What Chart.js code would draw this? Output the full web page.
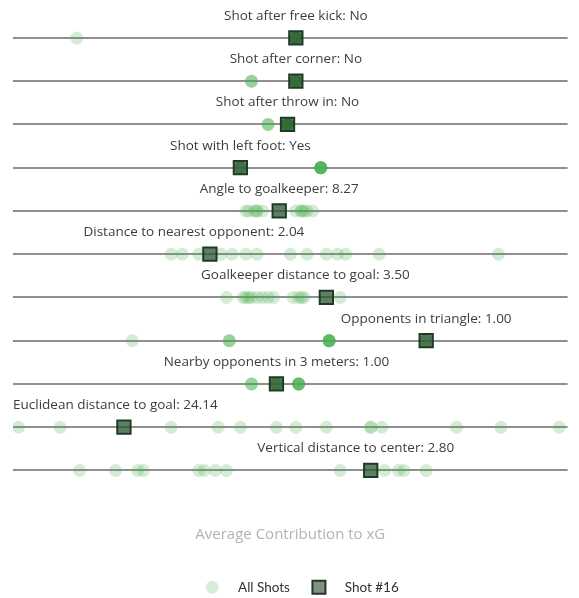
<!DOCTYPE html>
<html>
<head>
<meta charset="utf-8">
<script src="https://cdn.jsdelivr.net/npm/chart.js@4.4.0/dist/chart.umd.min.js"></script>
<style>
  html, body { margin: 0; padding: 0; background: #fff; overflow: hidden; }
  #wrap { position: relative; width: 579px; height: 604px; }
</style>
</head>
<body>
<div id="wrap"><canvas id="xg-chart"></canvas></div>
<script>
// Feature rows, top to bottom
const features = [
    'Shot after free kick',
    'Shot after corner',
    'Shot after throw in',
    'Shot with left foot',
    'Angle to goalkeeper',
    'Distance to nearest opponent',
    'Goalkeeper distance to goal',
    'Opponents in triangle',
    'Nearby opponents in 3 meters',
    'Euclidean distance to goal',
    'Vertical distance to center'
];

// Feature value of Shot #16
const featureValues = ['No', 'No', 'No', 'Yes', '8.27', '2.04', '3.50', '1.00', '1.00', '24.14', '2.80'];

// Contribution to xG of Shot #16, one per feature
const shot16 = [0.002, 0.002, -0.001, -0.018, -0.004, -0.029, 0.013, 0.049, -0.005, -0.060, 0.029];

// Contribution to xG of every shot, one list per feature
const allShots = [
    [-0.077, 0.002, 0.002, 0.002, 0.002, 0.002, 0.002, 0.002, 0.002, 0.002, 0.002, 0.002, 0.002, 0.002, 0.002],
    [-0.014, -0.014, -0.014, 0.002, 0.002, 0.002, 0.002, 0.002, 0.002, 0.002, 0.002, 0.002, 0.002, 0.002, 0.002],
    [-0.008, -0.008, -0.008, -0.001, -0.001, -0.001, -0.001, -0.001, -0.001, -0.001, -0.001, -0.001, -0.001, -0.001, -0.001],
    [-0.018, -0.018, -0.018, -0.018, -0.018, 0.011, 0.011, 0.011, 0.011, 0.011, 0.011, 0.011, 0.011, 0.011, 0.011],
    [-0.016, -0.015, -0.013, -0.012, -0.012, -0.010, -0.004, 0.002, 0.004, 0.004, 0.005, 0.006, 0.008],
    [-0.043, -0.039, -0.033, -0.029, -0.025, -0.021, -0.016, -0.012, 0.000, 0.006, 0.013, 0.017, 0.020, 0.032, 0.075],
    [-0.023, -0.017, -0.016, -0.015, -0.014, -0.012, -0.010, -0.008, -0.006, 0.001, 0.003, 0.004, 0.005, 0.013, 0.018],
    [-0.057, -0.022, -0.022, -0.022, 0.014, 0.014, 0.014, 0.014, 0.014, 0.014, 0.014, 0.014, 0.049, 0.049, 0.049],
    [-0.014, -0.014, -0.014, -0.005, -0.005, -0.005, -0.005, -0.005, 0.003, 0.003, 0.003, 0.003, 0.003, 0.003, 0.003],
    [-0.098, -0.083, -0.060, -0.043, -0.026, -0.018, -0.005, 0.002, 0.013, 0.029, 0.029, 0.033, 0.060, 0.076, 0.097],
    [-0.076, -0.063, -0.055, -0.053, -0.033, -0.031, -0.027, -0.023, 0.018, 0.029, 0.034, 0.039, 0.041, 0.049]
];

const FONT = '"Open Sans", Lato, sans-serif';
const DOT_COLOR = 'rgba(76, 175, 80, 0.24)';
const SQUARE_FILL = 'rgba(40, 75, 45, 0.68)';
const SQUARE_BORDER = '#1e3a25';

// small pixel nudges for some row labels (text only)
const labelNudge = [0, 0, 0, 0, 0, -16, -21, 0, 0, -11, -15];

const allPoints = [];
allShots.forEach((row, i) => {
    row.forEach(v => allPoints.push({ x: v, y: features[i] }));
});
const shotPoints = shot16.map((v, i) => ({ x: v, y: features[i] }));

// legend icons
function makeIcon(kind) {
    const c = document.createElement('canvas');
    c.width = 17;
    c.height = 17;
    const g = c.getContext('2d');
    if (kind === 'circle') {
        g.fillStyle = 'rgba(76, 175, 80, 0.22)';
        g.beginPath();
        g.arc(8.5, 8.5, 6.5, 0, Math.PI * 2);
        g.fill();
    } else {
        g.fillStyle = 'rgba(45, 70, 50, 0.6)';
        g.fillRect(2, 2, 13, 13);
        g.strokeStyle = SQUARE_BORDER;
        g.lineWidth = 2;
        g.strokeRect(2, 2, 13, 13);
    }
    return c;
}
const circleIcon = makeIcon('circle');
const squareIcon = makeIcon('square');

// Draw "Feature: value" text above each row
const rowLabels = {
    id: 'rowLabels',
    afterDraw(chart) {
        const { ctx, chartArea } = chart;
        const xs = chart.scales.x;
        const ys = chart.scales.y;
        ctx.save();
        ctx.font = '13.5px ' + FONT;
        ctx.fillStyle = '#3d3d3d';
        ctx.textAlign = 'left';
        ctx.textBaseline = 'middle';
        features.forEach((f, i) => {
            const text = f + ': ' + featureValues[i];
            const w = ctx.measureText(text).width;
            let cx = xs.getPixelForValue(shot16[i]) + labelNudge[i];
            let left = cx - w / 2;
            if (left < chartArea.left) left = chartArea.left;
            if (left + w > chartArea.right) left = chartArea.right - w;
            const y = ys.getPixelForValue(i) - 22;
            ctx.fillText(text, left, y);
        });
        ctx.restore();
    }
};

const ctx = document.getElementById('xg-chart').getContext('2d');

new Chart(ctx, {
    type: 'scatter',
    data: {
        datasets: [
            {
                label: 'All Shots',
                data: allPoints,
                order: 1,
                pointStyle: 'circle',
                pointRadius: 6.5,
                pointHoverRadius: 6.5,
                backgroundColor: DOT_COLOR,
                borderWidth: 0
            },
            {
                label: 'Shot #16',
                data: shotPoints,
                order: 0,
                pointStyle: 'rect',
                pointRadius: 9.4,
                pointHoverRadius: 9.4,
                backgroundColor: SQUARE_FILL,
                borderColor: SQUARE_BORDER,
                borderWidth: 2
            }
        ]
    },
    options: {
        responsive: true,
        maintainAspectRatio: false,
        animation: false,
        layout: { padding: { top: 16.35, left: 13, right: 0, bottom: 0 } },
        scales: {
            x: {
                type: 'linear',
                min: -0.1,
                max: 0.1,
                grid: { display: false },
                border: { display: false },
                ticks: { display: false },
                title: {
                    display: true,
                    text: 'Average Contribution to xG',
                    color: '#b3b3b3',
                    font: { family: FONT, size: 15 },
                    padding: { top: 25.4, bottom: 27 }
                }
            },
            y: {
                type: 'category',
                labels: features,
                offset: true,
                grid: {
                    offset: false,
                    color: '#8f8f8f',
                    lineWidth: 2,
                    drawTicks: false
                },
                border: { display: false },
                ticks: { display: false }
            }
        },
        plugins: {
            tooltip: { enabled: false },
            legend: {
                position: 'bottom',
                labels: {
                    usePointStyle: true,
                    pointStyleWidth: 38,
                    boxHeight: 13,
                    padding: 10,
                    color: '#333',
                    font: { family: 'Lato, sans-serif', size: 13.5 },
                    generateLabels: () => [
                        { text: 'All Shots', pointStyle: circleIcon, datasetIndex: 0, fontColor: '#333', hidden: false, lineWidth: 0 },
                        { text: 'Shot #16', pointStyle: squareIcon, datasetIndex: 1, fontColor: '#333', hidden: false, lineWidth: 0 }
                    ]
                }
            }
        }
    },
    plugins: [rowLabels]
});
</script>
</body>
</html>
